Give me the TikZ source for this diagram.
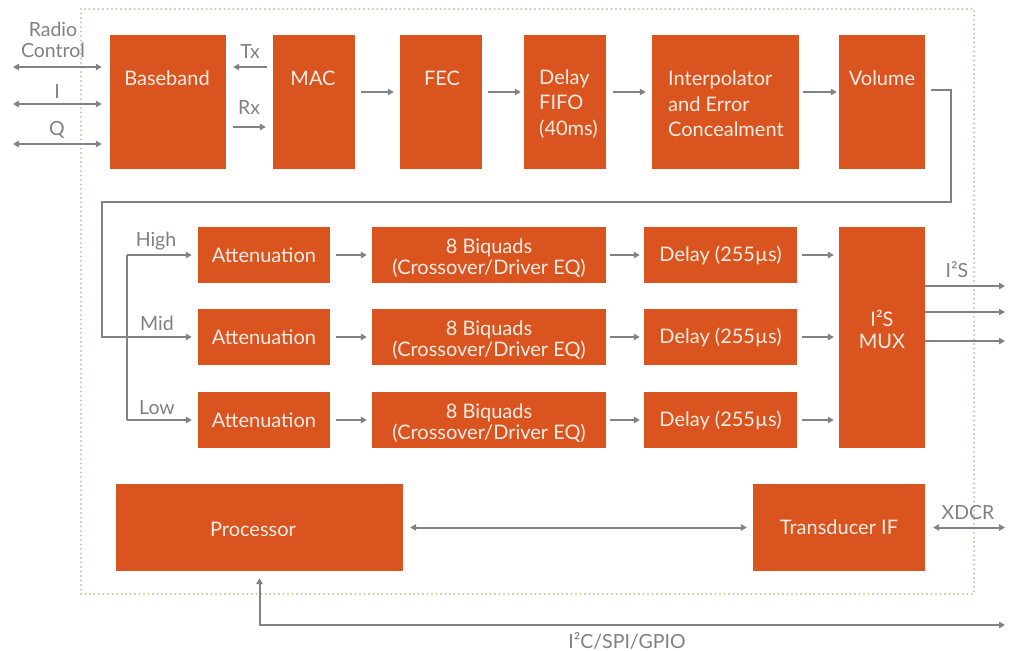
\documentclass[tikz,border=0pt]{standalone}
\usepackage{fontspec}
\setmainfont{Lato}
\usetikzlibrary{arrows.meta}
\definecolor{boxc}{HTML}{D9541E}
\definecolor{linec}{HTML}{808285}
\definecolor{labc}{HTML}{808080}
\definecolor{dotc}{HTML}{C9C49E}
\definecolor{btc}{HTML}{FBEDE6}
\tikzset{
  blk/.style={fill=boxc, draw=none, inner sep=0pt, text=btc, align=center,
    font=\fontsize{20}{21.5}\selectfont},
  btxt/.style={text=btc, inner sep=0pt, font=\fontsize{20}{25.5}\selectfont},
  lab/.style={text=labc, inner sep=0pt, align=center, font=\fontsize{19.5}{20.5}\selectfont},
  ln/.style={draw=linec, line width=2pt},
  conn/.style={ln, -{Triangle[length=6pt,width=6.5pt]}},
  bconn/.style={ln, {Triangle[length=6pt,width=6.5pt]}-{Triangle[length=6pt,width=6.5pt]}},
}
\begin{document}
\begin{tikzpicture}[x=1pt,y=-1pt]
\useasboundingbox (0,0) rectangle (1013,651);
% frame
\draw[dotc, line width=2.3pt, line cap=round, dash pattern=on 0pt off 4.5pt] (81,9) rectangle (974,594);
% top row boxes
\node[blk, minimum width=116pt, minimum height=134pt] (base) at (168,102) {};
\node[blk, minimum width=82pt, minimum height=134pt] (mac) at (314,102) {};
\node[blk, minimum width=82pt, minimum height=134pt] (fec) at (441,102) {};
\node[blk, minimum width=82pt, minimum height=134pt] (fifo) at (565,102) {};
\node[blk, minimum width=147pt, minimum height=134pt] (interp) at (725.5,102) {};
\node[blk, minimum width=86pt, minimum height=134pt] (vol) at (882,102) {};
\node[btxt] (baset) at (167,78) {Baseband};
\node[btxt] (mact) at (313,78) {MAC};
\node[btxt] (fect) at (442,78) {FEC};
\node[btxt, align=left, anchor=west] (fifot) at (539,104) {Delay\\FIFO\\(40ms)};
\node[btxt, align=left, anchor=west] (interpt) at (668,104) {Interpolator\\and Error\\Concealment};
\node[btxt] (volt) at (882,78) {Volume};
% middle rows
\foreach \r/\y in {1/255,2/337,3/420}{
  \node[blk, minimum width=132pt, minimum height=56pt] (att\r) at (264,\y) {Attenuation};
  \node[blk, minimum width=234pt, minimum height=56pt] (bq\r) at (489,\y) {};
  \node[blk, fill=none] (bqt\r) at (489,\y+3) {8 Biquads\\(Crossover/Driver EQ)};
  \node[blk, minimum width=153pt, minimum height=56pt] (dl\r) at (720.5,\y) {Delay (255µs)};
}
\node[blk, minimum width=86pt, minimum height=221pt] (mux) at (882,337.5) {};
\node[btxt, align=center] (muxt) at (882,329) {I²S\\[-3.5pt]MUX};
% bottom
\node[blk, minimum width=287pt, minimum height=87pt] (proc) at (259.5,527.5) {};
\node[blk, fill=none] (proct) at (253,529) {Processor};
\node[blk, minimum width=172pt, minimum height=87pt] (xif) at (839,527.5) {Transducer IF};
% labels
\node[lab] (rcl) at (53,40) {Radio\\Control};
\node[lab] (il) at (57,92) {I};
\node[lab] (ql) at (57,130) {Q};
\node[lab] (txl) at (250,52) {Tx};
\node[lab] (rxl) at (249,108) {Rx};
\node[lab] (hil) at (156,241) {High};
\node[lab] (midl) at (157,323) {Mid};
\node[lab] (lowl) at (157,408) {Low};
\node[lab] (i2sl) at (957,270) {I²S};
\node[lab] (xdl) at (968,513) {XDCR};
\node[lab] (i2cl) at (627,641) {I²C/SPI/GPIO};
% left IO
\coordinate (rc) at (13,67);
\coordinate (ic) at (13,104);
\coordinate (qc) at (13,144);
\draw[bconn, shorten >=8pt] (rc) -- (rc -| base.west);
\draw[bconn, shorten >=8pt] (ic) -- (ic -| base.west);
\draw[bconn, shorten >=8pt] (qc) -- (qc -| base.west);
% Tx / Rx
\coordinate (txy) at (0,67);
\coordinate (rxy) at (0,127);
\draw[conn, shorten <=6pt, shorten >=7pt] (txy -| mac.west) -- (txy -| base.east);
\draw[conn, shorten <=7pt, shorten >=7pt] (rxy -| base.east) -- (rxy -| mac.west);
% top chain
\coordinate (ty) at (0,92);
\draw[conn, shorten <=6pt, shorten >=6pt] (ty -| mac.east) -- (ty -| fec.west);
\draw[conn, shorten <=6pt, shorten >=3pt] (ty -| fec.east) -- (ty -| fifo.west);
\draw[conn, shorten <=7pt, shorten >=6pt] (ty -| fifo.east) -- (ty -| interp.west);
\draw[conn, shorten <=4pt, shorten >=2pt] (ty -| interp.east) -- (ty -| vol.west);
% volume to split
\coordinate (v0) at (931,90);
\coordinate (vr) at (951,202);
\coordinate (vl) at (102,202);
\draw[conn, shorten >=6pt] (v0) -| (vr) -- (vl) |- (att2.west);
\coordinate (bh) at (127,255);
\coordinate (bl) at (127,420);
\draw[ln] (bh) -- (bl);
\draw[conn, shorten >=6pt] (bh) -- (att1.west);
\draw[conn, shorten >=6pt] (bl) -- (att3.west);
% rows
\foreach \r in {1,2,3}{
  \draw[conn, shorten <=6pt, shorten >=5pt] (att\r.east) -- (bq\r.west);
  \draw[conn, shorten <=4pt, shorten >=4pt] (bq\r.east) -- (dl\r.west);
  \draw[conn, shorten <=5pt, shorten >=5pt] (dl\r.east) -- (dl\r.east -| mux.west);
}
% I2S outputs
\foreach \n/\y in {1/286,2/312,3/341}{
  \coordinate (o\n) at (1005,\y);
  \draw[conn] (o\n -| mux.east) -- (o\n);
}
% bottom connectors
\draw[bconn, shorten <=7pt, shorten >=6pt] (proc.east) -- (xif.west);
\coordinate (xd) at (1005,527.5);
\draw[bconn, shorten <=8pt] (xif.east) -- (xd);
\coordinate (i2) at (1005,625);
\draw[bconn, shorten <=7pt] (proc.south) |- (i2);
\end{tikzpicture}
\end{document}
